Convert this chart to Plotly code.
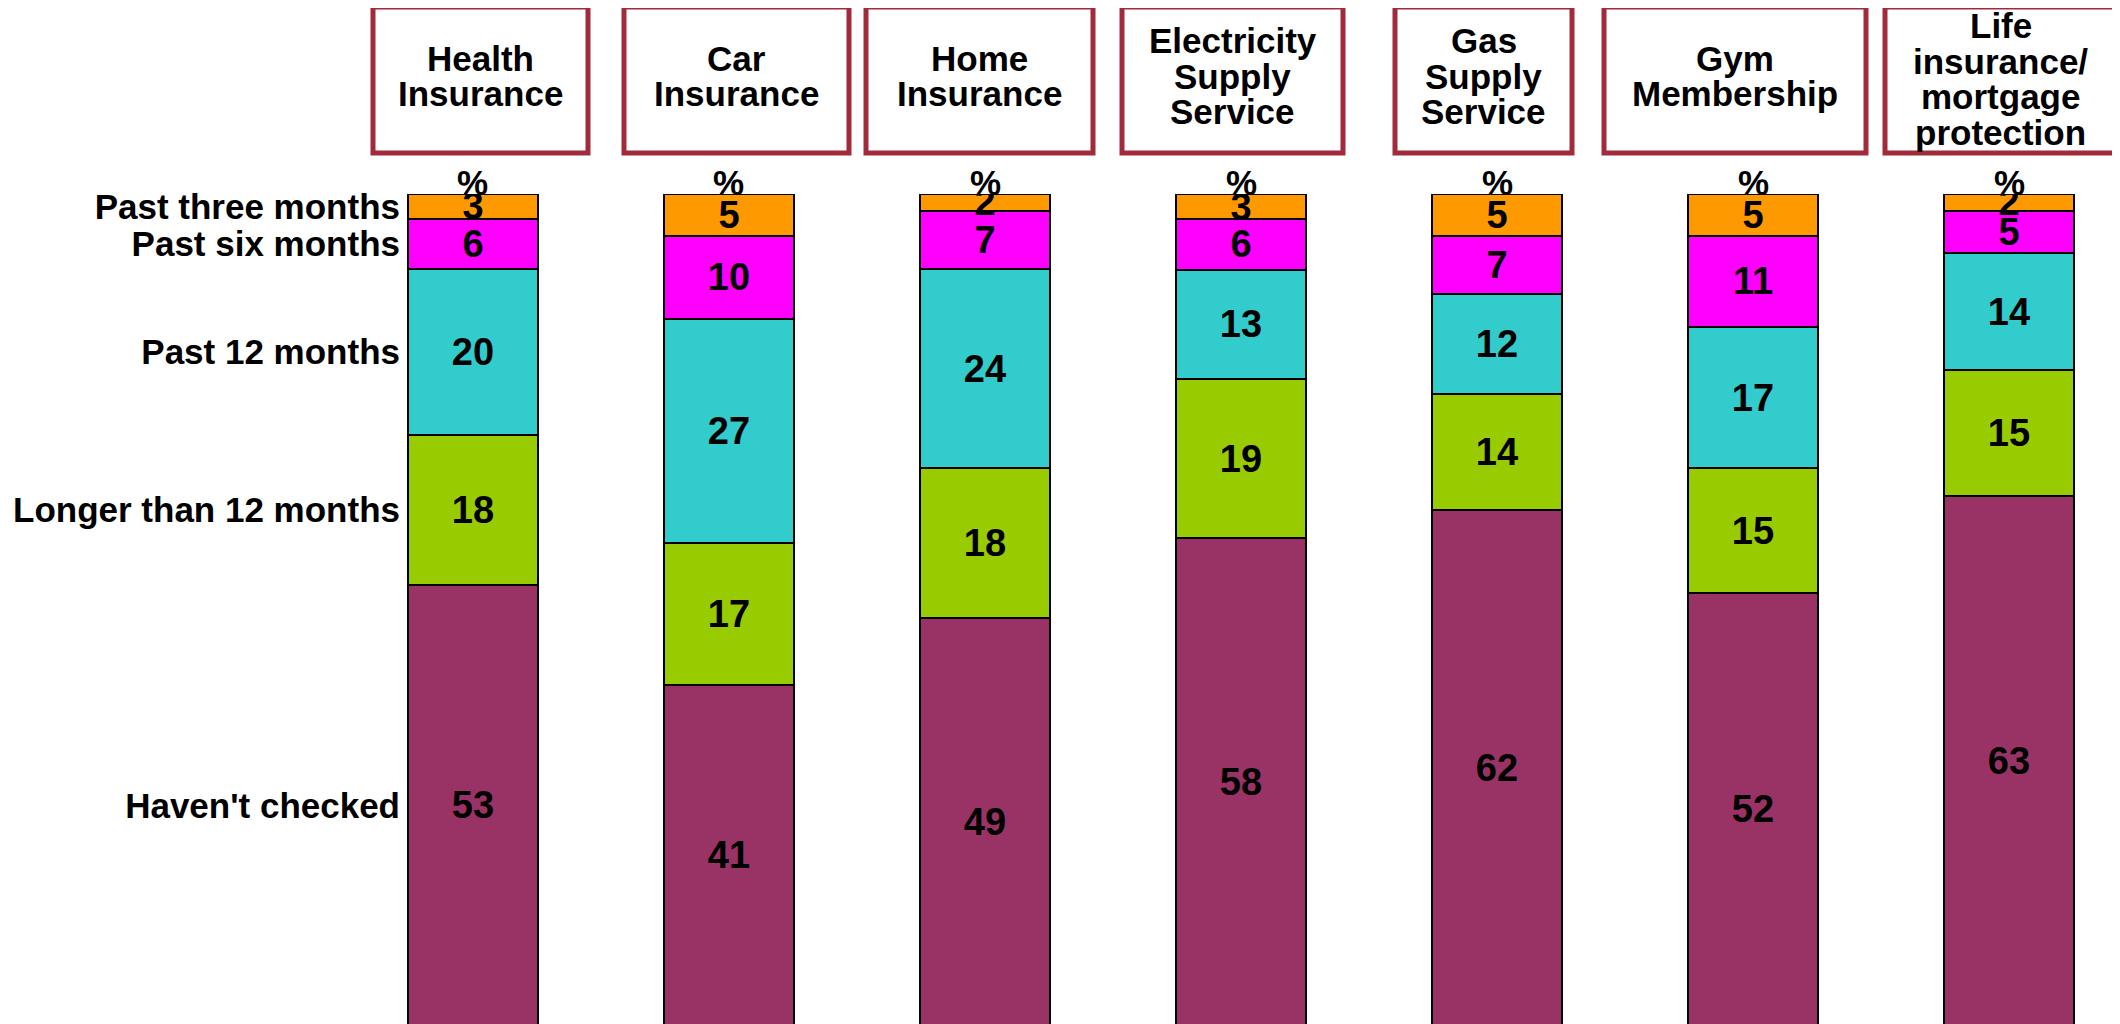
import plotly.graph_objects as go
import numpy as np

# ---------------- data ----------------
categories = ["Health Insurance", "Car Insurance", "Home Insurance",
              "Electricity Supply Service", "Gas Supply Service",
              "Gym Membership", "Life insurance/ mortgage protection"]
header_lines = [["Health", "Insurance"], ["Car", "Insurance"], ["Home", "Insurance"],
                ["Electricity", "Supply", "Service"], ["Gas", "Supply", "Service"],
                ["Gym", "Membership"], ["Life", "insurance/", "mortgage", "protection"]]
series_names = ["Haven't checked", "Longer than 12 months", "Past 12 months",
                "Past six months", "Past three months"]
havent_checked = [53, 41, 49, 58, 62, 52, 63]
longer_than_12 = [18, 17, 18, 19, 14, 15, 15]
past_12_months = [20, 27, 24, 13, 12, 17, 14]
past_six_months = [6, 10, 7, 6, 7, 11, 5]
past_three_months = [3, 5, 2, 3, 5, 5, 2]
series_values = [havent_checked, longer_than_12, past_12_months,
                 past_six_months, past_three_months]
colors = ["#993366", "#99CC00", "#33CCCC", "#FF00FF", "#FF9900"]

# ---------------- layout constants (page pixels) ----------------
OFF = 8                      # default body margin of the html page
W_PX, H_PX = 2120 - OFF, 1024 - OFF
L, T = 405 - OFF, 194 - OFF
PW, PH = W_PX - L, H_PX - T
box_left = [373, 624, 866, 1122, 1395, 1604, 1885]
box_right = [588, 849, 1093, 1343, 1572, 1866, 2116]
box_top, box_bottom = 7, 153
FONT = "Liberation Sans, Arial, sans-serif"
FS = 35
FS_BAR = 38


def px_x(px):
    return (px - OFF - L) / PW


def px_y(py):
    return 1 - (py - OFF - T) / PH


fig = go.Figure()
for name, vals, col in zip(series_names, series_values, colors):
    fig.add_trace(go.Bar(
        x=categories, y=vals, name=name,
        marker=dict(color=col, line=dict(color="black", width=2)),
        text=[str(v) for v in vals], textposition="inside", textangle=0,
        insidetextanchor="middle", constraintext="none",
        textfont=dict(family=FONT, size=FS_BAR, color="black", weight="bold"),
        width=0.505, hoverinfo="skip",
    ))

# y tick positions: midpoints of the first category's segments (normalised)
first = np.array([s[0] for s in series_values], dtype=float)
first = first / first.sum() * 100
cum = np.cumsum(first)
mids = cum - first / 2

annotations = []
shapes = []
for i, lines in enumerate(header_lines):
    x0, x1 = px_x(box_left[i]), px_x(box_right[i])
    shapes.append(dict(type="rect", xref="paper", yref="paper",
                       x0=x0, x1=x1, y0=px_y(box_bottom), y1=px_y(box_top),
                       line=dict(color="#A12A3B", width=5),
                       fillcolor="white", layer="above"))
    cx = (x0 + x1) / 2
    n = len(lines)
    for j, ln in enumerate(lines):
        py = 76 + (j - (n - 1) / 2) * 35.5
        if n == 4:
            py += 3
        annotations.append(dict(text=ln, x=cx, y=px_y(py), xref="paper", yref="paper",
                                xanchor="center", yanchor="middle", showarrow=False,
                                font=dict(family=FONT, size=FS, color="black", weight="bold")))
    annotations.append(dict(text="%", x=categories[i], y=px_y(182), xref="x", yref="paper",
                            xanchor="center", yanchor="middle", showarrow=False,
                            font=dict(family=FONT, size=FS, color="black", weight="bold")))

fig.update_layout(
    width=W_PX, height=H_PX,
    margin=dict(l=L, r=0, t=T, b=0, pad=0),
    barmode="stack", barnorm="percent",
    plot_bgcolor="white", paper_bgcolor="white",
    showlegend=False,
    uniformtext=dict(minsize=FS_BAR, mode="show"),
    xaxis=dict(visible=False, range=[-0.2656, 6.4336], type="category"),
    yaxis=dict(range=[0.2, 100], tickvals=list(mids), ticktext=series_names,
               showgrid=False, zeroline=False, showline=False, ticks="",
               ticklabelstandoff=4, automargin=False,
               tickfont=dict(family=FONT, size=FS, color="black", weight="bold")),
    shapes=shapes,
    annotations=annotations,
)

fig.write_html("out.html")
